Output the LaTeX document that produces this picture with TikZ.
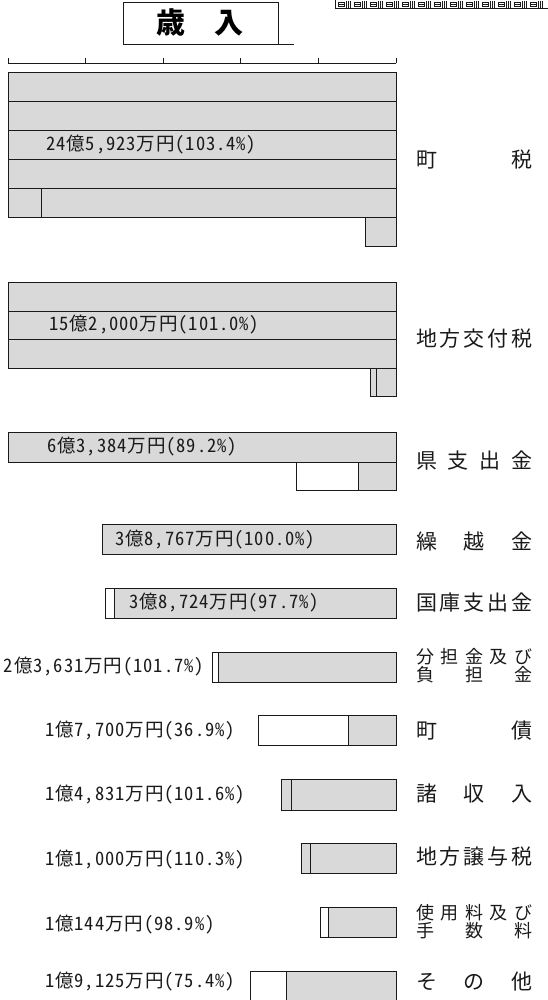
\documentclass[tikz,border=0pt]{standalone}
\usepackage{xcolor}
\definecolor{chart-ink}{HTML}{1A1A1A}
\definecolor{chart-bar}{HTML}{D9D9D9}
\usepackage{fontspec}
\newfontfamily\titlefont{Noto Sans CJK JP}
\newfontfamily\valfont[RawFeature=+hwid,LetterSpace=5]{Noto Sans CJK JP}
\newfontfamily\catfont{Noto Sans CJK JP}
\usepackage{tikz}

\newcommand{\spread}[1]{\makebox[116pt][s]{#1}}

\begin{document}
\begin{tikzpicture}[x=1pt, y=-1pt,
    bar/.style={draw=chart-ink, fill=chart-bar, line width=0.9pt},
    gap/.style={draw=chart-ink, fill=white, line width=0.9pt},
    rule/.style={draw=chart-ink, line width=0.9pt},
    value/.style={font={\valfont\fontsize{18.5}{18.5}\selectfont}, inner sep=0pt, text=chart-ink},
    item/.style={font={\catfont\fontsize{21}{21}\selectfont}, inner sep=0pt, anchor=west, text=chart-ink},
    item2/.style={font={\catfont\fontsize{18}{18}\selectfont}, inner sep=0pt, anchor=west, text=chart-ink}]

    \useasboundingbox (0,0) rectangle (547,1000);

    % Frame strip
    \draw[rule] (335,-2) |- (549,8);
    \foreach \i in {0,...,12} {
        \draw[chart-ink, line width=0.5pt] ({338+16*\i},2) rectangle ({344+16*\i},6.5);
        \draw[chart-ink, line width=0.5pt] ({338+16*\i},4.2) -- ({344+16*\i},4.2);
        \foreach \d in {8,10,12}
            \draw[chart-ink, line width=0.5pt] ({338+16*\i+\d},1) -- ({338+16*\i+\d},8);
    }

    % Title
    \draw[rule] (123,2) rectangle (278,44);
    \draw[rule] (278,44) -- (294,44);
    \node[font={\titlefont\bfseries\fontsize{29}{29}\selectfont}, inner sep=0pt] (title) at (200,22) {歳　入};

    % Scale
    \draw[rule] (8,63.5) -- (396,63.5);
    \foreach \t in {0,...,5}
        \draw[rule] ({8+77.6*\t},58) -- ({8+77.6*\t},63.5);

    % Town tax
    \path[bar] (8,72) rectangle (396,217);
    \foreach \yy in {101,130,159,188}
        \draw[rule] (8,\yy) -- (396,\yy);
    \draw[rule] (41,188) -- (41,217);
    \path[bar] (365,217) rectangle (396,246);
    \node[value, anchor=west] (v-town) at (46,145) {24億5,923万円(103.4\%)};
    \node[item] (c-town) at (416,160) {\spread{町\hfill 税}};

    % Local allocation tax
    \path[bar] (8,282) rectangle (396,368);
    \foreach \yy in {311,339.5}
        \draw[rule] (8,\yy) -- (396,\yy);
    \path[bar] (370,368) rectangle (396,396);
    \draw[rule] (376,368) -- (376,396);
    \node[value, anchor=west] (v-grant) at (49,325) {15億2,000万円(101.0\%)};
    \node[item] (c-grant) at (416,339) {\spread{地\hfill 方\hfill 交\hfill 付\hfill 税}};

    % Prefecture
    \path[bar] (8,432) rectangle (396,462);
    \path[gap] (296,462) rectangle (358,490);
    \path[bar] (358,462) rectangle (396,490);
    \node[value, anchor=west] (v-pref) at (47,447) {6億3,384万円(89.2\%)};
    \node[item] (c-pref) at (416,461) {\spread{県\hfill 支\hfill 出\hfill 金}};

    % Carry-over
    \path[bar] (102,524) rectangle (396,554);
    \node[value, anchor=west] (v-carry) at (115,540) {3億8,767万円(100.0\%)};
    \node[item] (c-carry) at (416,541) {\spread{繰\hfill 越\hfill 金}};

    % National treasury
    \path[bar] (105,588.5) rectangle (396,618.5);
    \path[gap] (105,588.5) rectangle (114.5,618.5);
    \node[value, anchor=west] (v-nation) at (129,603) {3億8,724万円(97.7\%)};
    \node[item] (c-nation) at (416,603) {\spread{国\hfill 庫\hfill 支\hfill 出\hfill 金}};

    % Shares
    \path[bar] (212,652) rectangle (396,682);
    \path[gap] (212,652) rectangle (218,682);
    \node[value, anchor=east] (v-share) at (204,667) {2億3,631万円(101.7\%)};
    \node[item2] (c-share-a) at (416,657) {\spread{分\hfill 担\hfill 金\hfill 及\hfill び}};
    \node[item2] (c-share-b) at (416,675) {\spread{負\hfill 担\hfill 金}};

    % Town bonds
    \path[gap] (258,715) rectangle (348,745);
    \path[bar] (348,715) rectangle (396,745);
    \node[value, anchor=west] (v-bond) at (45,731) {1億7,700万円(36.9\%)};
    \node[item] (c-bond) at (416,731) {\spread{町\hfill 債}};

    % Miscellaneous
    \path[bar] (281,779.5) rectangle (396,810);
    \draw[rule] (291,779.5) -- (291,810);
    \node[value, anchor=west] (v-misc) at (45,795) {1億4,831万円(101.6\%)};
    \node[item] (c-misc) at (416,794) {\spread{諸\hfill 収\hfill 入}};

    % Transfer tax
    \path[bar] (301,843.5) rectangle (396,873.5);
    \draw[rule] (310.5,843.5) -- (310.5,873.5);
    \node[value, anchor=west] (v-transfer) at (45,860) {1億1,000万円(110.3\%)};
    \node[item] (c-transfer) at (416,857) {\spread{地\hfill 方\hfill 譲\hfill 与\hfill 税}};

    % Fees
    \path[bar] (320,907) rectangle (396,937);
    \path[gap] (320,907) rectangle (328,937);
    \node[value, anchor=west] (v-fee) at (45,925) {1億144万円(98.9\%)};
    \node[item2] (c-fee-a) at (416,913) {\spread{使\hfill 用\hfill 料\hfill 及\hfill び}};
    \node[item2] (c-fee-b) at (416,931) {\spread{手\hfill 数\hfill 料}};

    % Other
    \path[gap] (250.5,971) rectangle (286,1004);
    \path[bar] (286,971) rectangle (396,1004);
    \node[value, anchor=west] (v-other) at (45,982) {1億9,125万円(75.4\%)};
    \node[item] (c-other) at (416,982) {\spread{そ\hfill の\hfill 他}};

\end{tikzpicture}
\end{document}
